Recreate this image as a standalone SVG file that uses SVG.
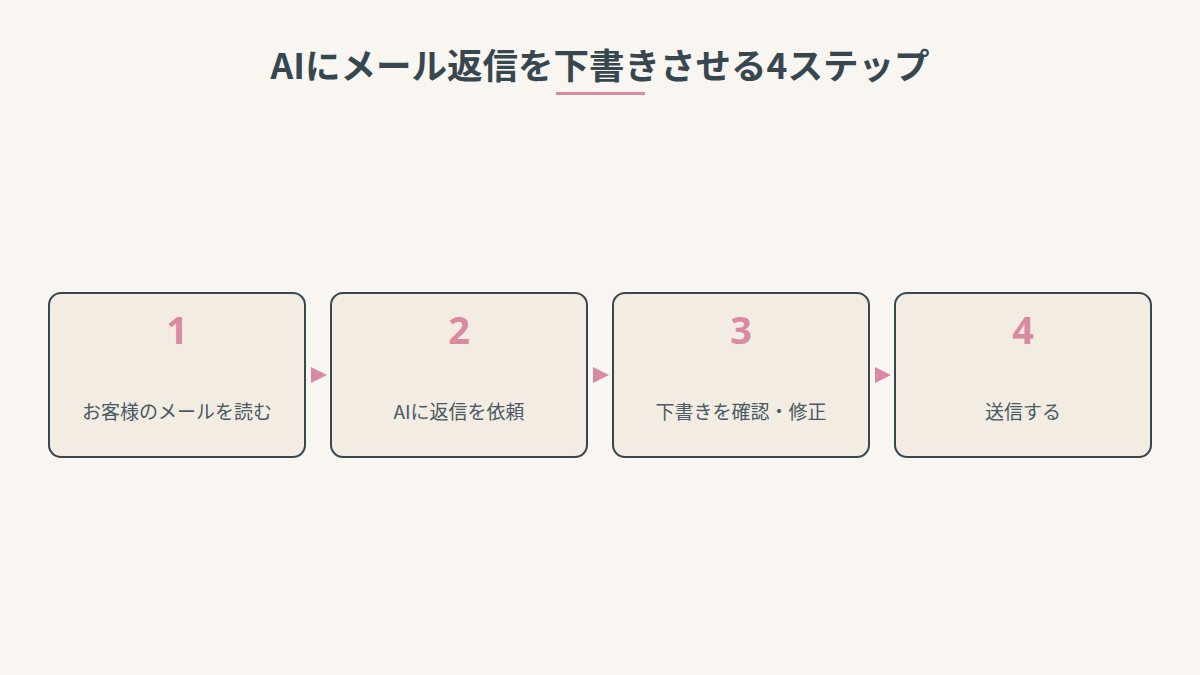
<svg xmlns="http://www.w3.org/2000/svg" width="1200" height="675" viewBox="0 0 1200 675">
<style>
.title{font-family:"Noto Sans CJK JP","Noto Sans",sans-serif;font-weight:700;font-size:35.5px;fill:#37474f;text-anchor:middle}
.box{fill:#f2ece3;stroke:#37474f;stroke-width:2}
.num{font-family:"Noto Sans","Noto Sans CJK JP",sans-serif;font-weight:700;font-size:38px;fill:#d98aa0;text-anchor:middle}
.lbl{font-family:"Noto Sans CJK JP",sans-serif;font-size:19px;font-weight:400;fill:#4a5a62;text-anchor:middle}
.arr{fill:#d98aa0}
</style>
<rect width="1200" height="675" fill="#f9f6f2"/>
<text class="title" x="600" y="79">AIにメール返信を下書きさせる4ステップ</text>
<rect x="556" y="92" width="89" height="3" fill="#d98aa0"/>
<g id="step1"><rect class="box" x="49" y="293" width="256" height="164" rx="12"/><text class="num" x="177" y="344">1</text><text class="lbl" x="177" y="419">お客様のメールを読む</text></g>
<g id="step2"><rect class="box" x="331" y="293" width="256" height="164" rx="12"/><text class="num" x="459" y="344">2</text><text class="lbl" x="459" y="419">AIに返信を依頼</text></g>
<g id="step3"><rect class="box" x="613" y="293" width="256" height="164" rx="12"/><text class="num" x="741" y="344">3</text><text class="lbl" x="741" y="419">下書きを確認・修正</text></g>
<g id="step4"><rect class="box" x="895" y="293" width="256" height="164" rx="12"/><text class="num" x="1023" y="344">4</text><text class="lbl" x="1023" y="419">送信する</text></g>
<g id="connectors">
<polygon class="arr" points="311,367 327,375 311,383"/>
<polygon class="arr" points="593,367 609,375 593,383"/>
<polygon class="arr" points="875,367 891,375 875,383"/>
</g>
</svg>
